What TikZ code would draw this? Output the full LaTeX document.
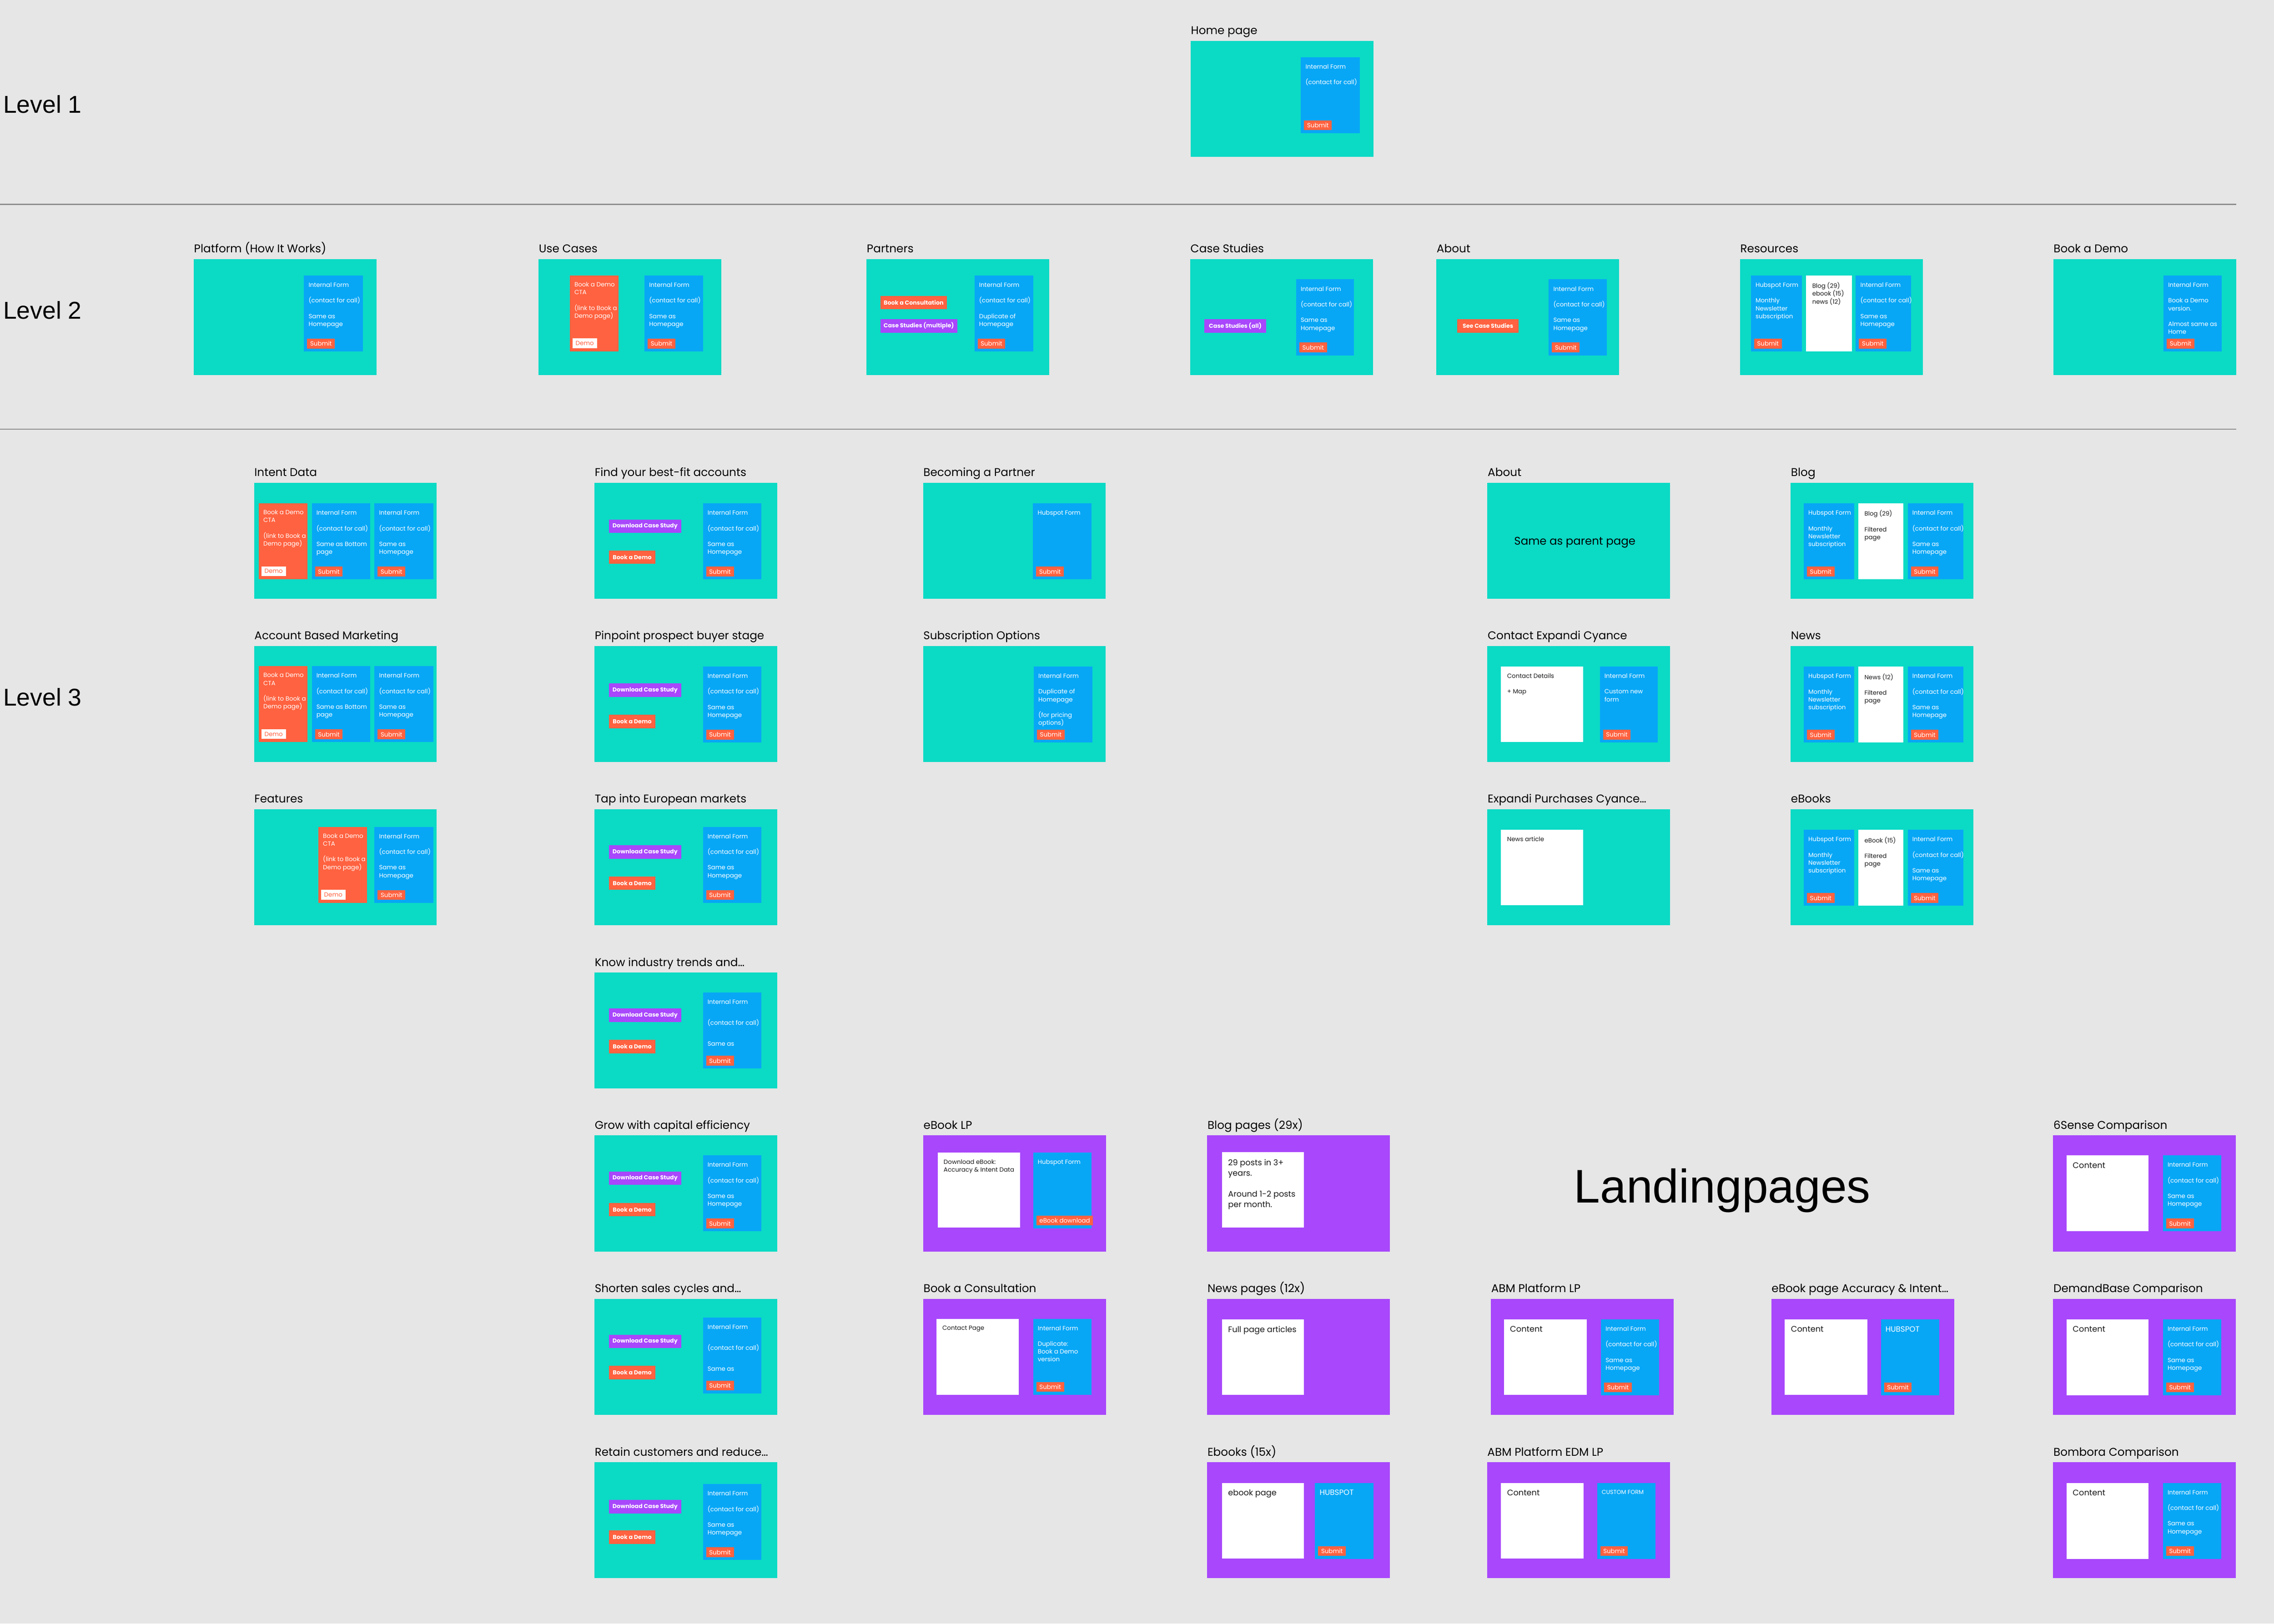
\documentclass[tikz,border=0pt]{standalone}
\usepackage{fontspec}
\setmainfont{Poppins}
\newfontfamily\labelfont{Liberation Sans}
\usetikzlibrary{calc, positioning}

\definecolor{bggrey}{HTML}{E6E6E6}
\definecolor{pageteal}{HTML}{0BDAC5}
\definecolor{formblue}{HTML}{07A7F6}
\definecolor{ctaorange}{HTML}{FF6240}
\definecolor{lppurple}{HTML}{A847FB}
\definecolor{rulegrey}{HTML}{8C8C8C}
\definecolor{copyink}{HTML}{1A1A1A}

\tikzset{
    bw/.style={minimum width=#1*0.9525pt},
    bh/.style={minimum height=#1*0.9525pt},
    pageFrame/.style={anchor=north west, inner sep=0pt, outer sep=0pt, bw=126, bh=80, fill=pageteal},
    pageTitle/.style={anchor=base west, inner sep=0pt, font=\fontsize{7.4}{9}\selectfont},
    panelBox/.style={anchor=north west, inner sep=0pt, outer sep=0pt},
    formText/.style={anchor=north west, inner sep=0pt, align=left, text=white, font=\fontsize{4}{5.14}\selectfont},
    darkText/.style={formText, text=copyink},
    bigText/.style={font=\fontsize{5.3}{6.9}\selectfont},
    submitBtn/.style={anchor=south west, fill=ctaorange, text=white, inner xsep=2pt, inner ysep=0pt, bh=6.8, font=\fontsize{4}{5}\selectfont},
    ctaBtn/.style={anchor=north west, inner sep=0pt, bh=9.3, text=white, font=\fontsize{3.8}{5}\selectfont\bfseries},
    levelLabel/.style={anchor=base west, inner sep=0pt, font=\labelfont\fontsize{16}{19}\selectfont},
    levelRule/.style={draw=rulegrey, line width=0.8pt},
}

\newcommand{\gapline}{\\[5.14pt]}
\newcommand{\stdform}{Internal Form\gapline (contact for call)\gapline Same as\\Homepage}
\newcommand{\hubspotcaps}{{\fontsize{5}{6}\selectfont HUBSPOT}}

\newcommand{\pageframe}[5][pageteal]{
    \node[pageFrame, fill=#1] (#2) at (#3,#4) {};
    \node[pageTitle] (#2-title) at ($(#2.north west)+(0,-4.4)$) {#5};
}
\newcommand{\formbox}[7][Submit]{
    \node[panelBox, fill=formblue, bw=#6, bh=52.4] (#2) at ($(#3.north west)+(#4,#5)$) {};
    \node[formText] (#2-text) at ($(#2.north west)+(3,4.7)$) {#7};
    \node[submitBtn] (#2-btn) at ($(#2.south west)+(2,-1.8)$) {#1};
}
\newcommand{\whitebox}[8][]{
    \node[panelBox, fill=white, bw=#6, bh=#7] (#2) at ($(#3.north west)+(#4,#5)$) {};
    \node[darkText, #1] (#2-text) at ($(#2.north west)+(4,4.6)$) {#8};
}
\newcommand{\ctabox}[4]{
    \node[panelBox, fill=ctaorange, bw=33.5, bh=52.4] (#1) at ($(#2.north west)+(#3,#4)$) {};
    \node[formText] (#1-text) at ($(#1.north west)+(3,4.4)$) {Book a Demo\\CTA\gapline (link to Book a\\Demo page)};
    \node[submitBtn, fill=white, text=ctaorange] (#1-btn) at ($(#1.south west)+(1.7,-2)$) {Demo};
}
\newcommand{\ctabtn}[7][ctaorange]{
    \node[ctaBtn, fill=#1, bw=#6] (#2) at ($(#3.north west)+(#4,#5)$) {#7};
}
\newcommand{\casepage}[7]{
    \pageframe{#1}{409.9}{#2}{#3}
    \ctabtn[lppurple]{#1-dl}{#1}{9.7}{#4}{50}{Download Case Study}
    \ctabtn{#1-book}{#1}{9.7}{#5}{32.2}{Book a Demo}
    \formbox{#1-form}{#1}{74.8}{#6}{40.4}{#7}
}
\newcommand{\filterpage}[4]{
    \pageframe{#1}{1234.7}{#2}{#3}
    \formbox{#1-hub}{#1}{9}{14.2}{34.7}{Hubspot Form\gapline Monthly\\Newsletter\\subscription}
    \whitebox{#1-list}{#1}{46.7}{14.2}{31}{52.4}{#4\gapline Filtered\\page}
    \formbox{#1-form}{#1}{80.7}{14.2}{38.4}{\stdform}
}

\begin{document}
\begin{tikzpicture}[x=0.9525pt, y=-0.9525pt]

    \useasboundingbox (0,0) rectangle (1568,1120);
    \fill[bggrey] (0,0) rectangle (1568,1120);

    % levels
    \node[levelLabel] (level1) at (2,78) {Level 1};
    \node[levelLabel] (level2) at (2,220) {Level 2};
    \node[levelLabel] (level3) at (2,487) {Level 3};
    \draw[levelRule] (0,141) -- (1542,141);
    \draw[levelRule] (0,296) -- (1542,296);

    % level 1
    \pageframe{home}{821}{28.1}{Home page}
    \formbox{home-form}{home}{76}{11.3}{40.6}{Internal Form\gapline (contact for call)}

    % level 2
    \pageframe{platform}{133.6}{178.7}{Platform (How It Works)}
    \formbox{platform-form}{platform}{76}{11.3}{40.6}{\stdform}

    \pageframe{usecases}{371.4}{178.7}{Use Cases}
    \ctabox{usecases-cta}{usecases}{21.5}{11.3}
    \formbox{usecases-form}{usecases}{73}{11.3}{40.4}{\stdform}

    \pageframe{partners}{597.5}{178.7}{Partners}
    \ctabtn{partners-book}{partners}{9.3}{25.1}{46}{Book a Consultation}
    \ctabtn[lppurple]{partners-cases}{partners}{9.3}{41.2}{53}{Case Studies (multiple)}
    \formbox{partners-form}{partners}{74.4}{11.3}{40.5}{Internal Form\gapline (contact for call)\gapline Duplicate of\\Homepage}

    \pageframe{casestudies}{820.7}{178.7}{Case Studies}
    \ctabtn[lppurple]{casestudies-all}{casestudies}{9.6}{41.2}{42.5}{Case Studies (all)}
    \formbox{casestudies-form}{casestudies}{73}{14}{40}{\stdform}

    \pageframe{about}{990.4}{178.7}{About}
    \ctabtn{about-see}{about}{14.1}{41.2}{42.5}{See Case Studies}
    \formbox{about-form}{about}{77.5}{14}{40}{\stdform}

    \pageframe{resources}{1199.8}{178.7}{Resources}
    \formbox{resources-hub}{resources}{7.5}{11.3}{35.2}{Hubspot Form\gapline Monthly\\Newsletter\\subscription}
    \whitebox{resources-list}{resources}{45.6}{11.3}{31.5}{52.4}{Blog (29)\\ebook (15)\\news (12)}
    \formbox{resources-form}{resources}{79.8}{11.3}{38.2}{\stdform}

    \pageframe{bookdemo}{1415.8}{178.7}{Book a Demo}
    \formbox{bookdemo-form}{bookdemo}{76}{11.3}{40}{Internal Form\gapline Book a Demo\\version.\gapline Almost same as\\Home}

    % level 3
    \pageframe{intent}{175.2}{333}{Intent Data}
    \ctabox{intent-cta}{intent}{3.2}{14.2}
    \formbox{intent-form}{intent}{39.8}{14.2}{40.4}{Internal Form\gapline (contact for call)\gapline Same as Bottom\\page}
    \formbox{intent-home}{intent}{83}{14.2}{40.6}{\stdform}

    \pageframe{abm}{175.2}{445.6}{Account Based Marketing}
    \ctabox{abm-cta}{abm}{3.2}{13.9}
    \formbox{abm-form}{abm}{39.8}{13.9}{40.4}{Internal Form\gapline (contact for call)\gapline Same as Bottom\\page}
    \formbox{abm-home}{abm}{83}{13.9}{40.6}{\stdform}

    \pageframe{features}{175.2}{558.2}{Features}
    \ctabox{features-cta}{features}{44.3}{12.1}
    \formbox{features-form}{features}{83}{12.1}{40.6}{\stdform}

    \casepage{bestfit}{333}{Find your best-fit accounts}{25.1}{46.5}{14.2}{\stdform}
    \casepage{pinpoint}{445.6}{Pinpoint prospect buyer stage}{25.6}{47.2}{14.1}{\stdform}
    \casepage{european}{558.2}{Tap into European markets}{24.7}{46.1}{12.1}{\stdform}
    \casepage{industry}{670.8}{Know industry trends and…}{24.6}{46.3}{13.9}{Internal Form\\[8.6pt](contact for call)\\[8.6pt]Same as}
    \casepage{capital}{783.2}{Grow with capital efficiency}{24.6}{46.3}{13.7}{\stdform}
    \casepage{salescycle}{895.8}{Shorten sales cycles and…}{24.6}{46}{12.9}{Internal Form\\[8.6pt](contact for call)\\[8.6pt]Same as}
    \casepage{retain}{1008.6}{Retain customers and reduce…}{25.9}{46.8}{15.1}{\stdform}

    \pageframe{partner}{636.5}{333}{Becoming a Partner}
    \formbox{partner-hub}{partner}{75.8}{14.2}{40.4}{Hubspot Form}

    \pageframe{subscription}{636.5}{445.6}{Subscription Options}
    \formbox{subscription-form}{subscription}{76.3}{14.1}{40.5}{Internal Form\gapline Duplicate of\\Homepage\gapline (for pricing\\options)}

    \pageframe{aboutsub}{1025.6}{333}{About}
    \node[anchor=base, inner sep=0pt, font=\fontsize{7.3}{9}\selectfont] (aboutsub-text) at ($(aboutsub.north west)+(60.3,42.9)$) {Same as parent page};

    \pageframe{contact}{1025.6}{445.6}{Contact Expandi Cyance}
    \whitebox{contact-copy}{contact}{9.4}{14.1}{56.6}{52.2}{Contact Details\gapline + Map}
    \formbox{contact-form}{contact}{77.5}{14.1}{40}{Internal Form\gapline Custom new\\form}

    \pageframe{purchase}{1025.6}{558.2}{Expandi Purchases Cyance…}
    \whitebox{purchase-copy}{purchase}{9.4}{14}{56.6}{52.2}{News article}

    \filterpage{blog}{333}{Blog}{Blog (29)}
    \filterpage{news}{445.6}{News}{News (12)}
    \filterpage{ebooks}{558.2}{eBooks}{eBook (15)}

    % landing pages
    \node[anchor=base west, inner sep=0pt, font=\labelfont\fontsize{31}{36}\selectfont] (landing) at (1085.1,829.6) {Landingpages};

    \pageframe[lppurple]{ebooklp}{636.6}{783.2}{eBook LP}
    \whitebox{ebooklp-copy}{ebooklp}{9.9}{11.7}{56.9}{51.8}{Download eBook:\\Accuracy \& Intent Data}
    \formbox[eBook download]{ebooklp-hub}{ebooklp}{75.8}{11.7}{40.3}{Hubspot Form}

    \pageframe[lppurple]{consult}{636.6}{895.8}{Book a Consultation}
    \whitebox{consult-copy}{consult}{9}{13.8}{56.7}{52.4}{Contact Page}
    \formbox{consult-form}{consult}{75.8}{13.8}{40.3}{Internal Form\gapline Duplicate:\\Book a Demo\\version}

    \pageframe[lppurple]{blogpages}{832.4}{783.2}{Blog pages (29x)}
    \whitebox[bigText]{blogpages-copy}{blogpages}{10.2}{11.6}{56.5}{52}{29 posts in 3+\\years.\\[6.9pt]Around 1-2 posts\\per month.}

    \pageframe[lppurple]{newspages}{832.4}{895.8}{News pages (12x)}
    \whitebox[bigText]{newspages-copy}{newspages}{10.2}{14.2}{56.5}{52}{Full page articles}

    \pageframe[lppurple]{ebookpages}{832.4}{1008.6}{Ebooks (15x)}
    \whitebox[bigText]{ebookpages-copy}{ebookpages}{10.2}{14.2}{56.5}{52.3}{ebook page}
    \formbox{ebookpages-hub}{ebookpages}{74.3}{14.2}{40.4}{\hubspotcaps}

    \pageframe[lppurple]{abmlp}{1028}{895.8}{ABM Platform LP}
    \whitebox[bigText]{abmlp-copy}{abmlp}{9}{14.2}{57.2}{52}{Content}
    \formbox{abmlp-form}{abmlp}{75.9}{14.2}{40.1}{\stdform}

    \pageframe[lppurple]{abmedm}{1025.4}{1008.6}{ABM Platform EDM LP}
    \whitebox[bigText]{abmedm-copy}{abmedm}{9.6}{14.2}{56.8}{52.3}{Content}
    \formbox{abmedm-form}{abmedm}{75.8}{14.2}{40.4}{{\fontsize{3.8}{5}\selectfont CUSTOM FORM}}

    \pageframe[lppurple]{ebookpage}{1221.4}{895.8}{eBook page Accuracy \& Intent…}
    \whitebox[bigText]{ebookpage-copy}{ebookpage}{9.3}{14.2}{56.9}{52}{Content}
    \formbox{ebookpage-hub}{ebookpage}{75.5}{14.2}{40.2}{\hubspotcaps}

    \pageframe[lppurple]{sixsense}{1415.7}{783.2}{6Sense Comparison}
    \whitebox[bigText]{sixsense-copy}{sixsense}{9.3}{13.7}{56.4}{52.4}{Content}
    \formbox{sixsense-form}{sixsense}{75.7}{13.7}{40.3}{\stdform}

    \pageframe[lppurple]{demandbase}{1415.7}{895.8}{DemandBase Comparison}
    \whitebox[bigText]{demandbase-copy}{demandbase}{9.3}{14.2}{56.4}{52.4}{Content}
    \formbox{demandbase-form}{demandbase}{75.7}{14.2}{40.3}{\stdform}

    \pageframe[lppurple]{bombora}{1415.7}{1008.6}{Bombora Comparison}
    \whitebox[bigText]{bombora-copy}{bombora}{9.3}{14.2}{56.4}{52.4}{Content}
    \formbox{bombora-form}{bombora}{75.7}{14.2}{40.3}{\stdform}

\end{tikzpicture}
\end{document}
